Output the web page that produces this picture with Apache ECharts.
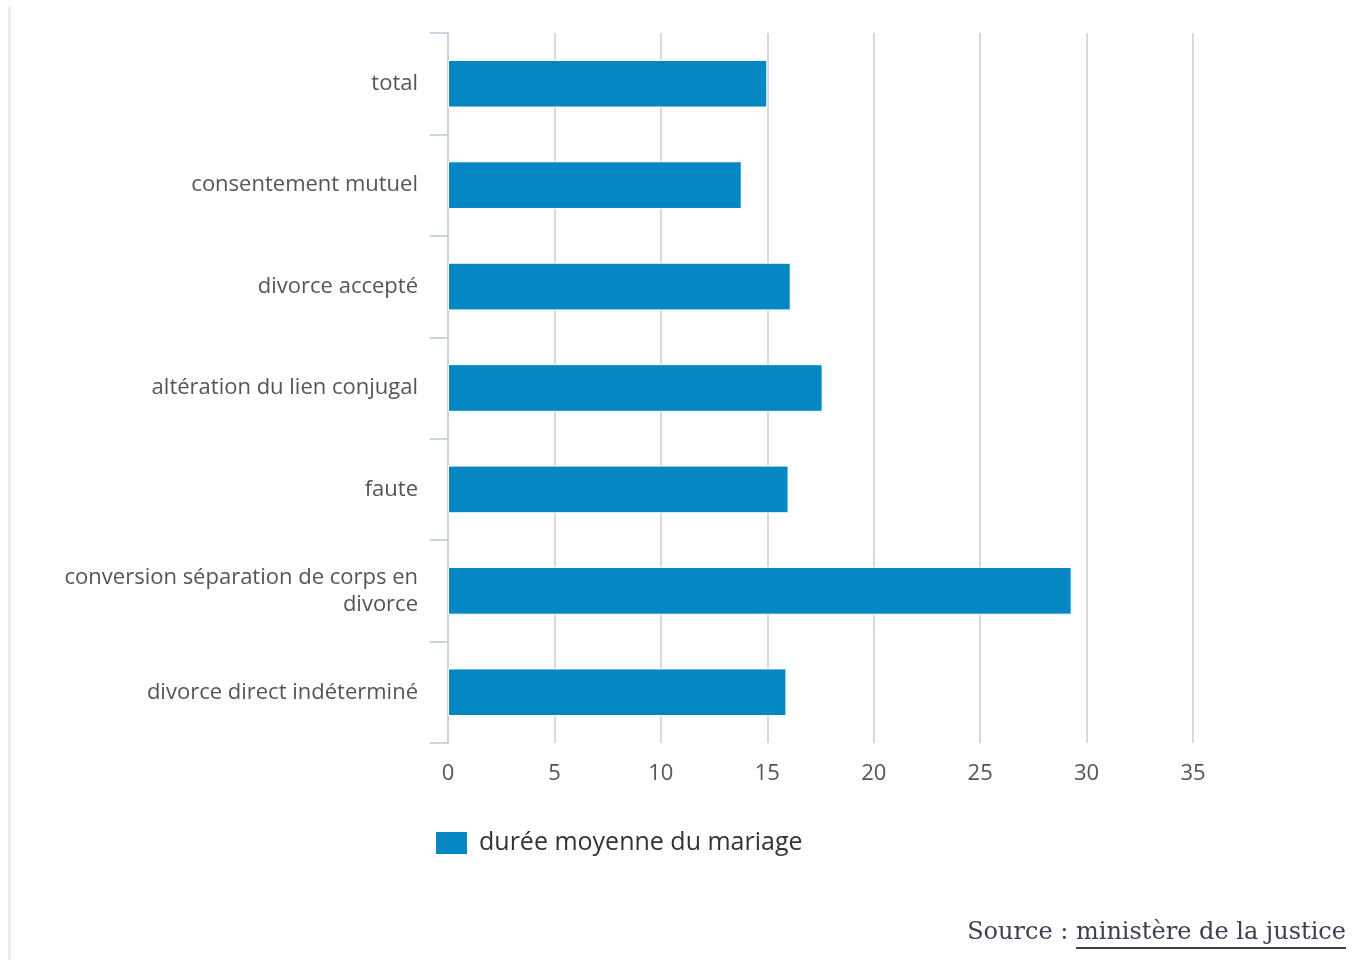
<!DOCTYPE html>
<html>
<head>
<meta charset="utf-8">
<script src="https://cdn.jsdelivr.net/npm/echarts@6/dist/echarts.min.js"></script>
<style>
  html, body { margin: 0; padding: 0; background: #fff; }
  #chart { width: 1356px; height: 960px; }
</style>
</head>
<body>
<div id="chart"></div>
<script>
// Durée moyenne du mariage (années) selon le type de divorce
const categories = [
  'total',
  'consentement mutuel',
  'divorce accepté',
  'altération du lien conjugal',
  'faute',
  'conversion séparation de corps en divorce',
  'divorce direct indéterminé'
];
const dureeMoyenne = [15.0, 13.8, 16.1, 17.6, 16.0, 29.3, 15.9];
const seriesName = 'durée moyenne du mariage';
const sourceLabel = 'Source : ';
const sourceLink = 'ministère de la justice';

const SANS = '"Open Sans", "Noto Sans", sans-serif';
const SERIF = '"DejaVu Serif", "Liberation Serif", serif';
const SOURCE_SIZE = 24;

// Wrap a category name on word boundaries so no line exceeds maxChars
function wrapWords(text, maxChars) {
  const words = text.split(' ');
  const lines = [];
  let line = '';
  words.forEach(w => {
    const next = line ? line + ' ' + w : w;
    if (next.length > maxChars && line) {
      lines.push(line);
      line = w;
    } else {
      line = next;
    }
  });
  if (line) lines.push(line);
  return lines.join('\n');
}

// Measure a string to size the link underline
function textWidth(str, font) {
  const ctx = document.createElement('canvas').getContext('2d');
  ctx.font = font;
  return ctx.measureText(str).width;
}

const linkWidth = textWidth(sourceLink, SOURCE_SIZE + 'px ' + SERIF);

const chart = echarts.init(document.getElementById('chart'), null, { renderer: 'canvas' });

chart.setOption({
  animation: false,
  backgroundColor: '#fff',
  textStyle: { fontFamily: SANS },
  grid: { left: 448, right: 163, top: 33, bottom: 217, containLabel: false },
  xAxis: {
    type: 'value',
    min: 0,
    max: 35,
    interval: 5,
    axisLine: { show: false },
    axisTick: { show: false },
    splitLine: { show: true, lineStyle: { color: '#d9d9d9', width: 2 } },
    axisLabel: { color: '#555', fontSize: 22, margin: 20 }
  },
  yAxis: {
    type: 'category',
    data: categories,
    inverse: true,
    axisLine: { show: true, lineStyle: { color: '#c9d4e3', width: 2 } },
    axisTick: { show: true, length: 18, lineStyle: { color: '#c9d4e3', width: 2 } },
    axisLabel: {
      color: '#555',
      fontSize: 22,
      margin: 30,
      lineHeight: 27,
      align: 'right',
      formatter: v => wrapWords(v, 34)
    }
  },
  legend: {
    left: 434,
    top: 830,
    padding: 0,
    itemWidth: 33,
    itemHeight: 24,
    icon: 'rect',
    textStyle: { color: '#333', fontSize: 25, padding: [3, 0, 0, 6] },
    data: [seriesName]
  },
  series: [{
    name: seriesName,
    type: 'bar',
    data: dureeMoyenne,
    barWidth: '47%',
    itemStyle: { color: '#0587c4', borderColor: '#ffffff', borderWidth: 1 }
  }],
  graphic: [
    {
      type: 'line',
      shape: { x1: 9.5, y1: 7, x2: 9.5, y2: 960 },
      style: { stroke: '#e2e4e8', lineWidth: 2 }
    },
    {
      type: 'text',
      right: 10,
      top: 921,
      style: {
        text: sourceLink,
        font: SOURCE_SIZE + 'px ' + SERIF,
        fill: '#3b4150'
      }
    },
    {
      type: 'text',
      right: 10 + linkWidth,
      top: 921,
      style: {
        text: sourceLabel,
        font: SOURCE_SIZE + 'px ' + SERIF,
        fill: '#3b4150'
      }
    },
    {
      type: 'rect',
      right: 10,
      top: 947,
      shape: { width: linkWidth, height: 2 },
      style: { fill: '#3b4150' }
    }
  ]
});
</script>
</body>
</html>
